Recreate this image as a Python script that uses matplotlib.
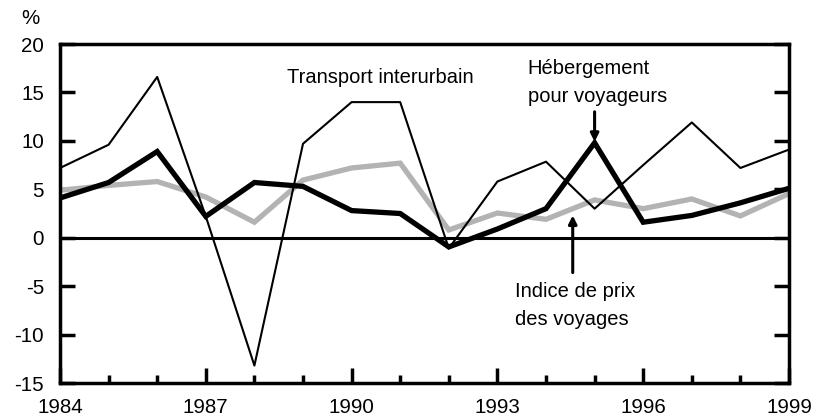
import matplotlib
matplotlib.use("Agg")
import matplotlib.pyplot as plt

plt.rcParams['font.family'] = ['Liberation Sans', 'DejaVu Sans']

years = list(range(1984, 2000))
transport = [7.2, 9.6, 16.6, 2.2, -13.2, 9.7, 14.0, 14.0, -1.1, 5.8, 7.85, 3.0, 7.5, 11.9, 7.2, 9.1]
hebergement = [4.1, 5.7, 8.9, 2.2, 5.7, 5.3, 2.8, 2.5, -0.95, 0.9, 3.0, 9.8, 1.6, 2.3, 3.6, 5.1]
indice = [4.9, 5.4, 5.8, 4.2, 1.6, 5.95, 7.2, 7.7, 0.8, 2.55, 1.9, 3.9, 3.0, 4.0, 2.25, 4.55]
xtick_labels = ['1984', '1987', '1990', '1993', '1996', '1999']
ytick_vals = [-15, -10, -5, 0, 5, 10, 15, 20]

fig = plt.figure(figsize=(8.24, 4.19), dpi=100)
ax = fig.add_axes([60/824, 1-383/419, (789-60)/824, (383-44)/419])

ax.plot(years, indice, color='#b3b3b3', lw=3.8, solid_joinstyle='miter', zorder=2)
ax.plot(years, transport, color='black', lw=1.5, zorder=3)
ax.plot(years, hebergement, color='black', lw=3.8, solid_joinstyle='miter', zorder=4)
ax.axhline(0, color='black', lw=2.2, zorder=1)

ax.set_xlim(1984, 1999)
ax.set_ylim(-15, 20)
for s in ax.spines.values():
    s.set_linewidth(2.5)

ax.set_xticks([int(t) for t in xtick_labels])
ax.set_xticklabels(xtick_labels)
ax.set_xticks(years, minor=True)
ax.set_yticks(ytick_vals)
ax.set_yticklabels([str(v) for v in ytick_vals])
ax.tick_params(axis='both', which='major', direction='in', length=11, width=2.5,
               labelsize=14.8)
ax.tick_params(axis='x', which='minor', direction='in', length=6, width=2.5)
ax.tick_params(axis='y', which='both', right=True, left=True, pad=11.5)
ax.tick_params(axis='x', which='major', pad=11)

fs = 14.5
fig.text(21/824, 1-18/419, '%', fontsize=14.8, ha='left', va='center')

ax.text(1988.67, 16.5, 'Transport interurbain', fontsize=fs, ha='left', va='center')
ax.text(1993.62, 17.5, 'Hébergement', fontsize=fs, ha='left', va='center')
ax.text(1993.62, 14.6, 'pour voyageurs', fontsize=fs, ha='left', va='center')
ax.annotate('', xy=(1995, 9.9), xytext=(1995, 13.0),
            arrowprops=dict(arrowstyle='-|>', color='black', lw=2.2,
                            mutation_scale=12, shrinkA=0, shrinkB=0))
ax.text(1993.36, -5.6, 'Indice de prix', fontsize=fs, ha='left', va='center')
ax.text(1993.36, -8.4, 'des voyages', fontsize=fs, ha='left', va='center')
ax.annotate('', xy=(1994.55, 2.3), xytext=(1994.55, -3.6),
            arrowprops=dict(arrowstyle='-|>', color='black', lw=2.2,
                            mutation_scale=12, shrinkA=0, shrinkB=0))

fig.savefig('out.png', dpi=100)
